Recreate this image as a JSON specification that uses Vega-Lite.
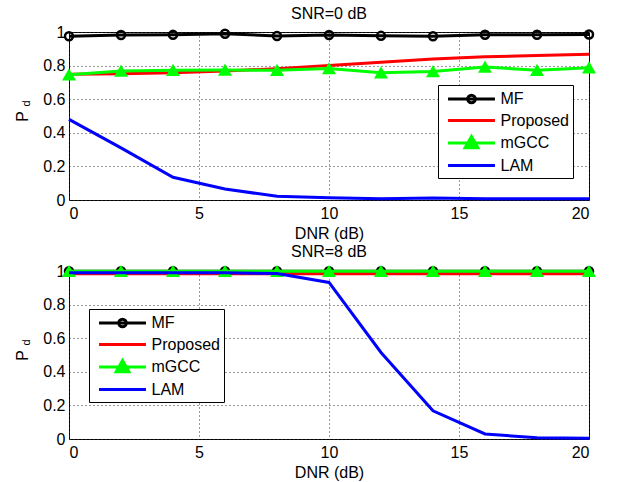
{
  "$schema": "https://vega.github.io/schema/vega-lite/v6.json",
  "padding": {"left": 13, "top": 5, "right": 0, "bottom": 0},
  "background": "white",
  "datasets": {
    "top": [
      {"series": "MF", "dnr": 0, "pd": 0.975}, {"series": "MF", "dnr": 2, "pd": 0.982}, {"series": "MF", "dnr": 4, "pd": 0.983}, {"series": "MF", "dnr": 6, "pd": 0.99}, {"series": "MF", "dnr": 8, "pd": 0.976}, {"series": "MF", "dnr": 10, "pd": 0.982}, {"series": "MF", "dnr": 12, "pd": 0.977}, {"series": "MF", "dnr": 14, "pd": 0.975}, {"series": "MF", "dnr": 16, "pd": 0.984}, {"series": "MF", "dnr": 18, "pd": 0.984}, {"series": "MF", "dnr": 20, "pd": 0.985},
      {"series": "Proposed", "dnr": 0, "pd": 0.748}, {"series": "Proposed", "dnr": 2, "pd": 0.752}, {"series": "Proposed", "dnr": 4, "pd": 0.758}, {"series": "Proposed", "dnr": 6, "pd": 0.768}, {"series": "Proposed", "dnr": 8, "pd": 0.782}, {"series": "Proposed", "dnr": 10, "pd": 0.8}, {"series": "Proposed", "dnr": 12, "pd": 0.82}, {"series": "Proposed", "dnr": 14, "pd": 0.84}, {"series": "Proposed", "dnr": 16, "pd": 0.853}, {"series": "Proposed", "dnr": 18, "pd": 0.86}, {"series": "Proposed", "dnr": 20, "pd": 0.867},
      {"series": "mGCC", "dnr": 0, "pd": 0.745}, {"series": "mGCC", "dnr": 2, "pd": 0.768}, {"series": "mGCC", "dnr": 4, "pd": 0.772}, {"series": "mGCC", "dnr": 6, "pd": 0.774}, {"series": "mGCC", "dnr": 8, "pd": 0.772}, {"series": "mGCC", "dnr": 10, "pd": 0.782}, {"series": "mGCC", "dnr": 12, "pd": 0.757}, {"series": "mGCC", "dnr": 14, "pd": 0.765}, {"series": "mGCC", "dnr": 16, "pd": 0.792}, {"series": "mGCC", "dnr": 18, "pd": 0.772}, {"series": "mGCC", "dnr": 20, "pd": 0.787},
      {"series": "LAM", "dnr": 0, "pd": 0.48}, {"series": "LAM", "dnr": 2, "pd": 0.31}, {"series": "LAM", "dnr": 4, "pd": 0.135}, {"series": "LAM", "dnr": 6, "pd": 0.065}, {"series": "LAM", "dnr": 8, "pd": 0.022}, {"series": "LAM", "dnr": 10, "pd": 0.014}, {"series": "LAM", "dnr": 12, "pd": 0.008}, {"series": "LAM", "dnr": 14, "pd": 0.012}, {"series": "LAM", "dnr": 16, "pd": 0.008}, {"series": "LAM", "dnr": 18, "pd": 0.008}, {"series": "LAM", "dnr": 20, "pd": 0.008}
    ],
    "bottom": [
      {"series": "MF", "dnr": 0, "pd": 0.999}, {"series": "MF", "dnr": 2, "pd": 0.999}, {"series": "MF", "dnr": 4, "pd": 0.999}, {"series": "MF", "dnr": 6, "pd": 0.999}, {"series": "MF", "dnr": 8, "pd": 0.999}, {"series": "MF", "dnr": 10, "pd": 0.999}, {"series": "MF", "dnr": 12, "pd": 0.999}, {"series": "MF", "dnr": 14, "pd": 0.999}, {"series": "MF", "dnr": 16, "pd": 0.999}, {"series": "MF", "dnr": 18, "pd": 0.999}, {"series": "MF", "dnr": 20, "pd": 0.999},
      {"series": "Proposed", "dnr": 0, "pd": 0.984}, {"series": "Proposed", "dnr": 2, "pd": 0.984}, {"series": "Proposed", "dnr": 4, "pd": 0.984}, {"series": "Proposed", "dnr": 6, "pd": 0.984}, {"series": "Proposed", "dnr": 8, "pd": 0.984}, {"series": "Proposed", "dnr": 10, "pd": 0.984}, {"series": "Proposed", "dnr": 12, "pd": 0.984}, {"series": "Proposed", "dnr": 14, "pd": 0.984}, {"series": "Proposed", "dnr": 16, "pd": 0.984}, {"series": "Proposed", "dnr": 18, "pd": 0.984}, {"series": "Proposed", "dnr": 20, "pd": 0.984},
      {"series": "mGCC", "dnr": 0, "pd": 0.998}, {"series": "mGCC", "dnr": 2, "pd": 0.998}, {"series": "mGCC", "dnr": 4, "pd": 0.998}, {"series": "mGCC", "dnr": 6, "pd": 0.998}, {"series": "mGCC", "dnr": 8, "pd": 0.998}, {"series": "mGCC", "dnr": 10, "pd": 0.998}, {"series": "mGCC", "dnr": 12, "pd": 0.998}, {"series": "mGCC", "dnr": 14, "pd": 0.998}, {"series": "mGCC", "dnr": 16, "pd": 0.998}, {"series": "mGCC", "dnr": 18, "pd": 0.998}, {"series": "mGCC", "dnr": 20, "pd": 0.998},
      {"series": "LAM", "dnr": 0, "pd": 0.99}, {"series": "LAM", "dnr": 2, "pd": 0.99}, {"series": "LAM", "dnr": 4, "pd": 0.99}, {"series": "LAM", "dnr": 6, "pd": 0.99}, {"series": "LAM", "dnr": 8, "pd": 0.985}, {"series": "LAM", "dnr": 10, "pd": 0.932}, {"series": "LAM", "dnr": 12, "pd": 0.515}, {"series": "LAM", "dnr": 14, "pd": 0.168}, {"series": "LAM", "dnr": 16, "pd": 0.03}, {"series": "LAM", "dnr": 18, "pd": 0.007}, {"series": "LAM", "dnr": 20, "pd": 0.004}
    ]
  },
  "vconcat": [
    {
      "title": {"text": "SNR=0 dB"},
      "width": 520,
      "height": 168,
      "data": {"name": "top"},
      "layer": [
        {
          "encoding": {
            "x": {"field": "dnr", "type": "quantitative", "scale": {"domain": [0, 20], "nice": false}, "axis": {"values": [0, 5, 10, 15, 20], "title": "DNR (dB)"}},
            "y": {"field": "pd", "type": "quantitative", "scale": {"domain": [0, 1], "nice": false}, "axis": {"values": [0, 0.2, 0.4, 0.6, 0.8, 1], "format": "~g", "title": "P", "titleX": -47, "titleY": 84, "titleAngle": -90, "titleBaseline": "middle", "titleAlign": "center"}}
          },
          "layer": [
            {"transform": [{"filter": "datum.series === 'MF'"}], "mark": {"type": "line", "strokeWidth": 3, "color": "#000000"}},
            {"transform": [{"filter": "datum.series === 'MF'"}], "mark": {"type": "point", "shape": "circle", "filled": false, "color": "black", "strokeWidth": 2.5, "size": 64, "opacity": 1}},
            {"transform": [{"filter": "datum.series === 'Proposed'"}], "mark": {"type": "line", "strokeWidth": 3, "color": "#ff0000"}},
            {"transform": [{"filter": "datum.series === 'mGCC'"}], "mark": {"type": "line", "strokeWidth": 3, "color": "#00ff00"}},
            {"transform": [{"filter": "datum.series === 'mGCC'"}], "mark": {"type": "point", "shape": "triangle-up", "filled": true, "color": "#00ff00", "stroke": "#00ff00", "strokeWidth": 1.5, "size": 130, "opacity": 1}},
            {"transform": [{"filter": "datum.series === 'LAM'"}], "mark": {"type": "line", "strokeWidth": 3, "color": "#0000ff"}},
            {"transform": [{"filter": "datum.dnr < 0"}], "mark": {"type": "point", "filled": true, "opacity": 1},
              "encoding": {
                "stroke": {"field": "series", "type": "nominal", "scale": {"domain": ["MF", "Proposed", "mGCC", "LAM"], "range": ["#000000", "#ff0000", "#00ff00", "#0000ff"]},
                  "legend": {"orient": "none", "legendX": 369, "legendY": 53, "title": null, "padding": 4, "strokeColor": "black", "fillColor": "white", "symbolSize": 289, "symbolStrokeWidth": 3, "symbolOffset": 19.5, "labelOffset": 19, "rowPadding": 1.5, "labelFontSize": 16, "labelFont": "Liberation Sans", "labelColor": "black"}},
                "fill": {"field": "series", "type": "nominal", "scale": {"domain": ["MF", "Proposed", "mGCC", "LAM"], "range": ["#ffffff", "transparent", "#00ff00", "transparent"]}},
                "shape": {"field": "series", "type": "nominal", "scale": {"domain": ["MF", "Proposed", "mGCC", "LAM"], "range": ["M-2.76,0H2.76M0.45,0A0.45,0.45 0 1,1 -0.45,0A0.45,0.45 0 1,1 0.45,0Z", "M-2.76,0H2.76", "M-2.76,0H2.76M-0.75,0.55L0.75,0.55L0,-0.75Z", "M-2.76,0H2.76"]}}
              }}
          ]
        },
        {
          "transform": [{"filter": "datum.series === 'MF' && datum.dnr === 0"}],
          "mark": {"type": "point", "opacity": 0},
          "encoding": {
            "y": {"field": "pd", "type": "quantitative", "axis": {"orient": "left", "title": "d", "labels": false, "ticks": false, "domain": false, "grid": false, "titleFontSize": 11, "titleX": -43, "titleY": 71, "titleAngle": -90, "titleBaseline": "middle", "titleAlign": "center"}}
          }
        }
      ],
      "resolve": {"axis": {"y": "independent"}}
    },
    {
      "title": {"text": "SNR=8 dB"},
      "width": 520,
      "height": 168,
      "data": {"name": "bottom"},
      "layer": [
        {
          "encoding": {
            "x": {"field": "dnr", "type": "quantitative", "scale": {"domain": [0, 20], "nice": false}, "axis": {"values": [0, 5, 10, 15, 20], "title": "DNR (dB)"}},
            "y": {"field": "pd", "type": "quantitative", "scale": {"domain": [0, 1], "nice": false}, "axis": {"values": [0, 0.2, 0.4, 0.6, 0.8, 1], "format": "~g", "title": "P", "titleX": -47, "titleY": 84, "titleAngle": -90, "titleBaseline": "middle", "titleAlign": "center"}}
          },
          "layer": [
            {"transform": [{"filter": "datum.series === 'MF'"}], "mark": {"type": "line", "strokeWidth": 3, "color": "#000000"}},
            {"transform": [{"filter": "datum.series === 'MF'"}], "mark": {"type": "point", "shape": "circle", "filled": false, "color": "black", "strokeWidth": 2.5, "size": 64, "opacity": 1}},
            {"transform": [{"filter": "datum.series === 'Proposed'"}], "mark": {"type": "line", "strokeWidth": 3, "color": "#ff0000"}},
            {"transform": [{"filter": "datum.series === 'mGCC'"}], "mark": {"type": "line", "strokeWidth": 3, "color": "#00ff00"}},
            {"transform": [{"filter": "datum.series === 'mGCC'"}], "mark": {"type": "point", "shape": "triangle-up", "filled": true, "color": "#00ff00", "stroke": "#00ff00", "strokeWidth": 1.5, "size": 130, "opacity": 1}},
            {"transform": [{"filter": "datum.series === 'LAM'"}], "mark": {"type": "line", "strokeWidth": 3, "color": "#0000ff"}},
            {"transform": [{"filter": "datum.dnr < 0"}], "mark": {"type": "point", "filled": true, "opacity": 1},
              "encoding": {
                "stroke": {"field": "series", "type": "nominal", "scale": {"domain": ["MF", "Proposed", "mGCC", "LAM"], "range": ["#000000", "#ff0000", "#00ff00", "#0000ff"]},
                  "legend": {"orient": "none", "legendX": 20, "legendY": 38, "title": null, "padding": 4, "strokeColor": "black", "fillColor": "white", "symbolSize": 289, "symbolStrokeWidth": 3, "symbolOffset": 19.5, "labelOffset": 19, "rowPadding": 1.5, "labelFontSize": 16, "labelFont": "Liberation Sans", "labelColor": "black"}},
                "fill": {"field": "series", "type": "nominal", "scale": {"domain": ["MF", "Proposed", "mGCC", "LAM"], "range": ["#ffffff", "transparent", "#00ff00", "transparent"]}},
                "shape": {"field": "series", "type": "nominal", "scale": {"domain": ["MF", "Proposed", "mGCC", "LAM"], "range": ["M-2.76,0H2.76M0.45,0A0.45,0.45 0 1,1 -0.45,0A0.45,0.45 0 1,1 0.45,0Z", "M-2.76,0H2.76", "M-2.76,0H2.76M-0.75,0.55L0.75,0.55L0,-0.75Z", "M-2.76,0H2.76"]}}
              }}
          ]
        },
        {
          "transform": [{"filter": "datum.series === 'MF' && datum.dnr === 0"}],
          "mark": {"type": "point", "opacity": 0},
          "encoding": {
            "y": {"field": "pd", "type": "quantitative", "axis": {"orient": "left", "title": "d", "labels": false, "ticks": false, "domain": false, "grid": false, "titleFontSize": 11, "titleX": -43, "titleY": 71, "titleAngle": -90, "titleBaseline": "middle", "titleAlign": "center"}}
          }
        }
      ],
      "resolve": {"axis": {"y": "independent"}}
    }
  ],
  "spacing": 1,
  "resolve": {"scale": {"stroke": "independent", "fill": "independent", "shape": "independent"}, "legend": {"stroke": "independent", "fill": "independent", "shape": "independent"}},
  "config": {
    "font": "Liberation Sans",
    "view": {"stroke": "black", "strokeWidth": 1},
    "title": {"fontSize": 16, "fontWeight": "normal", "color": "black", "offset": 2, "font": "Liberation Sans"},
    "axis": {
      "labelFont": "Liberation Sans", "labelFontSize": 16, "labelColor": "black",
      "titleFont": "Liberation Sans", "titleFontSize": 16, "titleFontWeight": "normal", "titleColor": "black",
      "ticks": false, "domain": false, "labelPadding": 4,
      "grid": true, "gridColor": "#333333", "gridDash": [1, 3], "gridWidth": 1, "gridOpacity": 1
    },
    "axisX": {"labelPadding": 5, "titlePadding": 4},
    "axisY": {"labelPadding": 4}
  }
}
